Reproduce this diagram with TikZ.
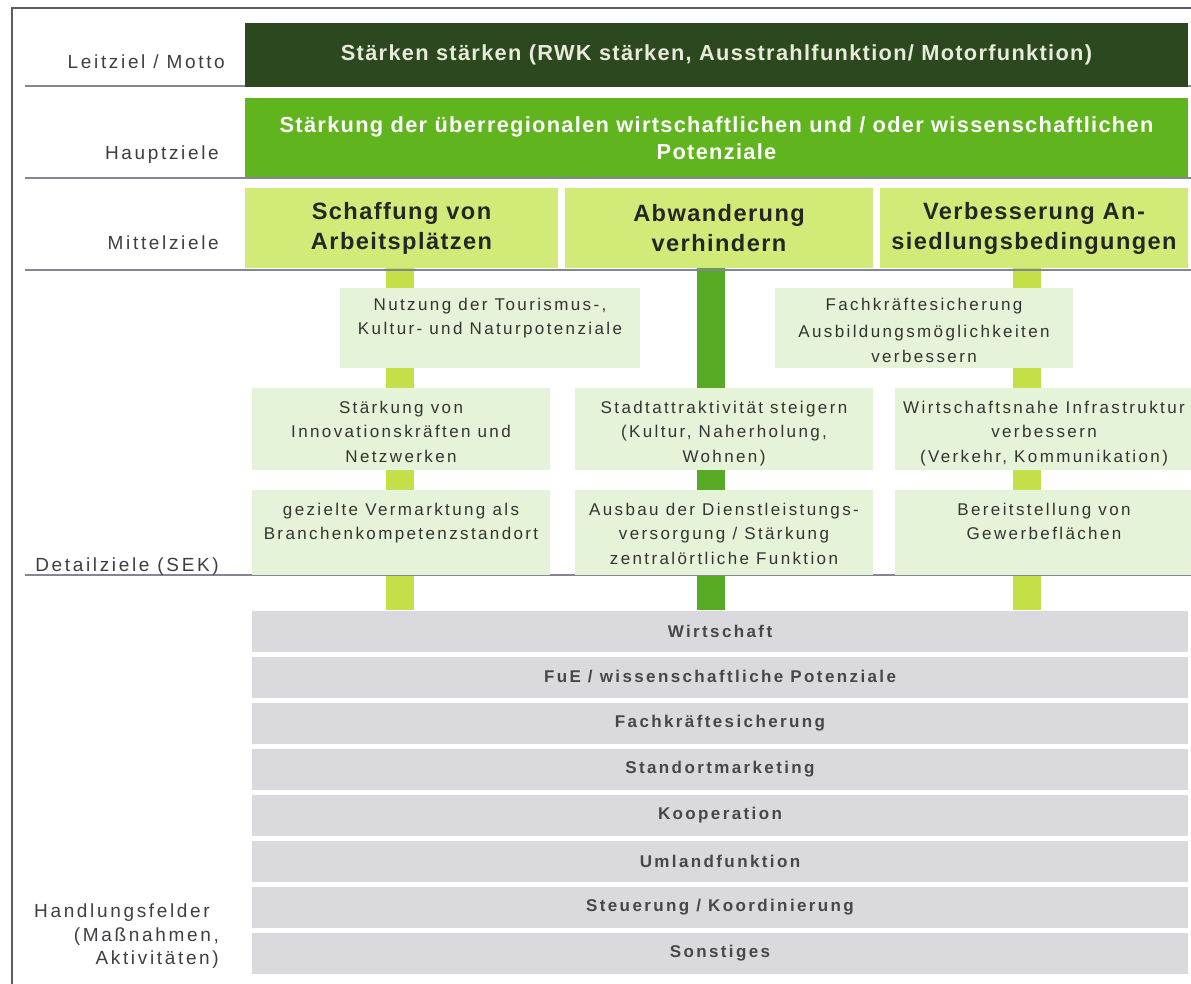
\documentclass[tikz,border=0pt]{standalone}
\usepackage{fontspec}
\setmainfont{Liberation Sans}[LetterSpace=6]
\newfontfamily\widefont{Liberation Sans}[LetterSpace=14]
\usetikzlibrary{backgrounds}
\definecolor{leitgreen}{RGB}{44,72,30}
\definecolor{leittext}{RGB}{232,234,220}
\definecolor{hauptgreen}{RGB}{96,180,30}
\definecolor{mittelgreen}{RGB}{210,235,120}
\definecolor{detailgreen}{RGB}{229,244,216}
\definecolor{barlime}{RGB}{196,224,72}
\definecolor{barmid}{RGB}{88,170,36}
\definecolor{fieldgray}{RGB}{218,218,222}
\definecolor{labelgray}{RGB}{62,62,66}
\definecolor{sepgray}{RGB}{132,134,148}
\definecolor{framegray}{RGB}{90,92,104}
% lines of a detail box, first line on top
\newcommand{\toplines}[1]{\begin{tabular}[t]{@{}c@{}}#1\end{tabular}}

\begin{document}
\begin{tikzpicture}[x=1pt, y=-1pt,
    rowlabel/.style={text=labelgray, font=\widefont\fontsize{19}{23.5}\selectfont, align=right, inner sep=0pt},
    leitbox/.style={fill=leitgreen, text=leittext, font=\bfseries\fontsize{21.8}{27}\selectfont,
        minimum width=943pt, minimum height=64pt, inner sep=0pt},
    hauptbox/.style={fill=hauptgreen, text=white, font=\bfseries\fontsize{21.8}{27}\selectfont, align=center,
        minimum width=943pt, minimum height=79pt, inner sep=0pt},
    mittelbox/.style={fill=mittelgreen, text=black!85, font=\bfseries\fontsize{23.6}{30}\selectfont, align=center,
        minimum height=80pt, inner sep=0pt},
    detailbox/.style={fill=detailgreen, text=black!80, font=\widefont\fontsize{17}{24.5}\selectfont,
        minimum width=298pt, inner sep=0pt, anchor=north, text height=25pt},
    fieldbar/.style={fill=fieldgray, text=black!72, font=\widefont\bfseries\fontsize{17}{20}\selectfont,
        minimum width=936pt, minimum height=41pt, inner sep=0pt},
    sepline/.style={draw=sepgray, line width=1.2pt},
    link/.style={line width=28pt},
]
    \useasboundingbox (0,0) rectangle (1191,984);

    % Frame and row separators
    \draw[framegray, line width=1.5pt] (12,984) -- (12,8) -- (1191,8);
    \foreach \y in {86,178,270,575}
        \draw[sepline] (25,\y) -- (1191,\y);

    % Row labels
    \node[rowlabel, anchor=base east] (lmotto)  at (225,69)  {Leitziel / Motto};
    \node[rowlabel, anchor=base east] (lhaupt)  at (219,160) {Hauptziele};
    \node[rowlabel, anchor=base east] (lmittel) at (219,250) {Mittelziele};
    \node[rowlabel, anchor=base east] (ldetail) at (219,571) {Detailziele (SEK)};
    \node[rowlabel, anchor=north east] (lhandl) at (219,904)
        {Handlungsfelder\hspace*{9pt}\\(Maßnahmen,\\Aktivitäten)};

    % Leitziel and Hauptziel
    \node[leitbox] (leit) at (716.5,55) {Stärken stärken (RWK stärken, Ausstrahlfunktion/ Motorfunktion)};
    \node[hauptbox] (haupt) at (716.5,138)
        {Stärkung der überregionalen wirtschaftlichen und / oder wissenschaftlichen\\Potenziale};

    % Mittelziele
    \node[mittelbox, minimum width=313pt] (arbeit) at (401.5,228) {Schaffung von\\Arbeitsplätzen};
    \node[mittelbox, minimum width=308pt] (abwand) at (719,228)   {Abwanderung\\verhindern};
    \node[mittelbox, minimum width=308pt] (ansied) at (1034,228)  {Verbesserung An-\\siedlungsbedingungen};

    % Detailziele (top edge given, text from the top)
    \node[detailbox, minimum width=300pt, text height=22pt, text depth=58pt] (tour) at (490,288)
        {\toplines{Nutzung der Tourismus-,\\Kultur- und Naturpotenziale}};
    \node[detailbox, text height=22pt, text depth=58pt] (fach) at (924,288)
        {\toplines{Fachkräftesicherung\\[3pt]Ausbildungsmöglichkeiten\\verbessern}};
    \node[detailbox, text depth=57pt] (innov) at (401,388)
        {\toplines{Stärkung von\\Innovationskräften und\\Netzwerken}};
    \node[detailbox, text depth=57pt] (stadt) at (724,388)
        {\toplines{Stadtattraktivität steigern\\(Kultur, Naherholung,\\Wohnen)}};
    \node[detailbox, text depth=57pt] (infra) at (1044,388)
        {\toplines{Wirtschaftsnahe Infrastruktur\\verbessern\\(Verkehr, Kommunikation)}};
    \node[detailbox, text depth=60pt] (vermark) at (401,490)
        {\toplines{gezielte Vermarktung als\\Branchenkompetenzstandort}};
    \node[detailbox, text depth=60pt] (dienst) at (724,490)
        {\toplines{Ausbau der Dienstleistungs-\\versorgung / Stärkung\\zentralörtliche Funktion}};
    \node[detailbox, text depth=60pt] (gewerbe) at (1044,490)
        {\toplines{Bereitstellung von\\Gewerbeflächen}};

    % Handlungsfelder
    \foreach \name/\txt [count=\i from 0] in {wirt/Wirtschaft, fue/{FuE / wissenschaftliche Potenziale},
        fks/Fachkräftesicherung, stm/Standortmarketing, koop/Kooperation, uml/Umlandfunktion,
        steu/{Steuerung / Koordinierung}, sonst/Sonstiges}
        \node[fieldbar] (\name) at (720,631+46*\i) {\txt};

    % Vertical links behind the boxes
    \begin{scope}[on background layer]
        \draw[link, barlime] ([xshift=-2pt]arbeit.south) -- ([xshift=-2pt]arbeit.south |- wirt.north);
        \draw[link, barmid]  ([xshift=-8pt]abwand.south) -- ([xshift=-8pt]abwand.south |- wirt.north);
        \draw[link, barlime] ([xshift=-7pt]ansied.south) -- ([xshift=-7pt]ansied.south |- wirt.north);
    \end{scope}
\end{tikzpicture}
\end{document}
